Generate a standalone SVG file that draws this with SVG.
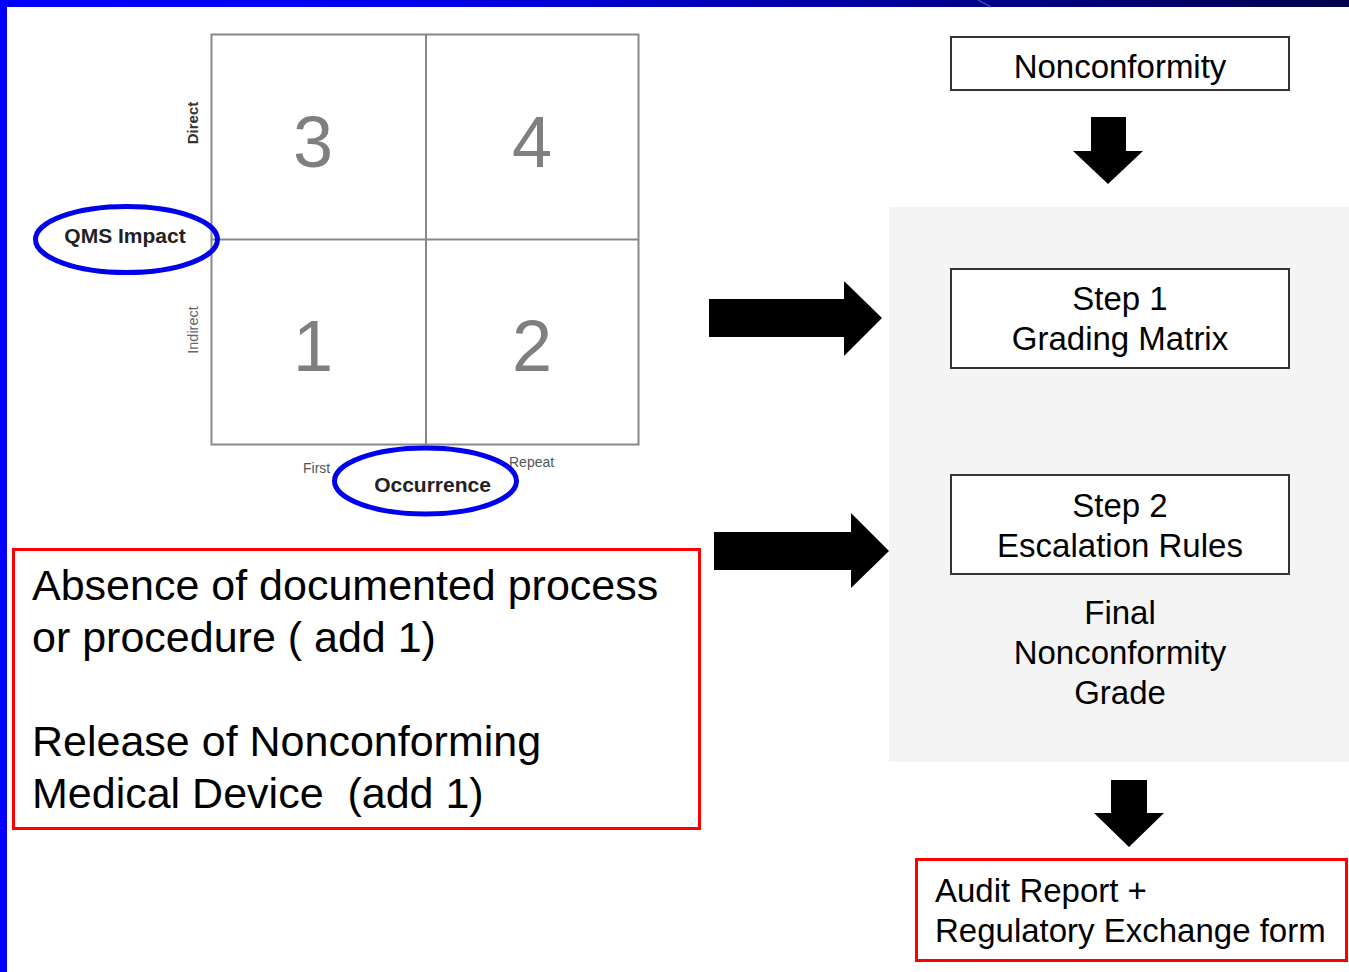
<svg xmlns="http://www.w3.org/2000/svg" width="1349" height="972" viewBox="0 0 1349 972">
<defs>
<linearGradient id="band" x1="0" y1="0" x2="1349" y2="0" gradientUnits="userSpaceOnUse">
<stop offset="0" stop-color="#0000ff"/>
<stop offset="0.3" stop-color="#0000ee"/>
<stop offset="1" stop-color="#00004c"/>
</linearGradient>
</defs>
<style>
.sans{font-family:"Liberation Sans",Arial,sans-serif}
.box{fill:#fff;stroke:#333;stroke-width:2}
.big{font-size:33px;fill:#000;text-anchor:middle}
.red{fill:#fff;stroke:#ff0000;stroke-width:3}
.txt43{font-size:43px;fill:#000}
.num{font-size:72px;fill:#7f7f7f;text-anchor:middle}
.grid{fill:none;stroke:#888;stroke-width:2}
.oval{fill:none;stroke:#0000ee;stroke-width:5}
.lbl{font-size:21px;font-weight:bold;fill:#222;text-anchor:middle}
.axis{font-size:14px;fill:#555}
.arrow{fill:#000}
</style>
<rect x="0" y="0" width="1349" height="972" fill="#fff"/>
<rect x="0" y="0" width="1349" height="7" fill="url(#band)"/>
<line x1="978" y1="0" x2="991" y2="7" stroke="#3a6aa8" stroke-width="1.5" opacity="0.7"/>
<rect x="0" y="0" width="7" height="972" fill="#0000ff"/>

<g id="panel"><rect x="889" y="207" width="460" height="555" fill="#f4f4f4"/></g>

<g id="matrix" class="sans">
<rect class="grid" x="211.5" y="34.5" width="427" height="410"/>
<line class="grid" x1="426" y1="34.5" x2="426" y2="444.5"/>
<line class="grid" x1="211.5" y1="239.5" x2="638.5" y2="239.5"/>
<text class="num" x="313" y="167">3</text>
<text class="num" x="532" y="167">4</text>
<text class="num" x="313" y="371">1</text>
<text class="num" x="532" y="371">2</text>
<text transform="translate(198,123) rotate(-90)" font-size="15" font-weight="bold" fill="#333" text-anchor="middle">Direct</text>
<text transform="translate(198,330) rotate(-90)" font-size="14.5" fill="#666" text-anchor="middle">Indirect</text>
<text class="axis" x="303" y="473">First</text>
<text class="axis" x="509" y="467">Repeat</text>
</g>

<g id="qms-impact" class="sans">
<ellipse class="oval" cx="126.5" cy="239.5" rx="91" ry="33"/>
<text class="lbl" x="125" y="243">QMS Impact</text>
</g>

<g id="occurrence" class="sans">
<ellipse class="oval" cx="425.5" cy="481" rx="91" ry="33"/>
<text class="lbl" x="432.5" y="492">Occurrence</text>
</g>

<g id="factors" class="sans">
<rect class="red" x="13.5" y="549.5" width="686" height="279"/>
<text class="txt43" x="32" y="600">Absence of documented process</text>
<text class="txt43" x="32" y="652">or procedure ( add 1)</text>
<text class="txt43" x="32" y="756" xml:space="preserve">Release of Nonconforming</text>
<text class="txt43" x="32" y="808" xml:space="preserve">Medical Device  (add 1)</text>
</g>

<g id="nonconformity" class="sans">
<rect class="box" x="951" y="37" width="338" height="53"/>
<text class="big" x="1120" y="78">Nonconformity</text>
</g>

<g id="step1" class="sans">
<rect class="box" x="951" y="269" width="338" height="99"/>
<text class="big" x="1120" y="310">Step 1</text>
<text class="big" x="1120" y="350">Grading Matrix</text>
</g>

<g id="step2" class="sans">
<rect class="box" x="951" y="475" width="338" height="99"/>
<text class="big" x="1120" y="517">Step 2</text>
<text class="big" x="1120" y="557">Escalation Rules</text>
</g>

<g id="final-grade" class="sans">
<text class="big" x="1120" y="624">Final</text>
<text class="big" x="1120" y="664">Nonconformity</text>
<text class="big" x="1120" y="704">Grade</text>
</g>

<g id="audit-report" class="sans">
<rect class="red" x="916.5" y="859.5" width="430" height="101"/>
<text class="big" x="935" y="902" text-anchor="start" style="text-anchor:start">Audit Report +</text>
<text class="big" x="935" y="942" style="text-anchor:start">Regulatory Exchange form</text>
</g>

<g id="connectors">
<polygon class="arrow" points="1091,117 1126,117 1126,151 1143,151 1108,184 1073,151 1091,151"/>
<polygon class="arrow" points="709,299 844,299 844,281 882,318 844,356 844,337 709,337"/>
<polygon class="arrow" points="714,532 851,532 851,513 889,551 851,588 851,570 714,570"/>
<polygon class="arrow" points="1111,780 1147,780 1147,813 1164,813 1129,847 1094,813 1111,813"/>
</g>
</svg>
